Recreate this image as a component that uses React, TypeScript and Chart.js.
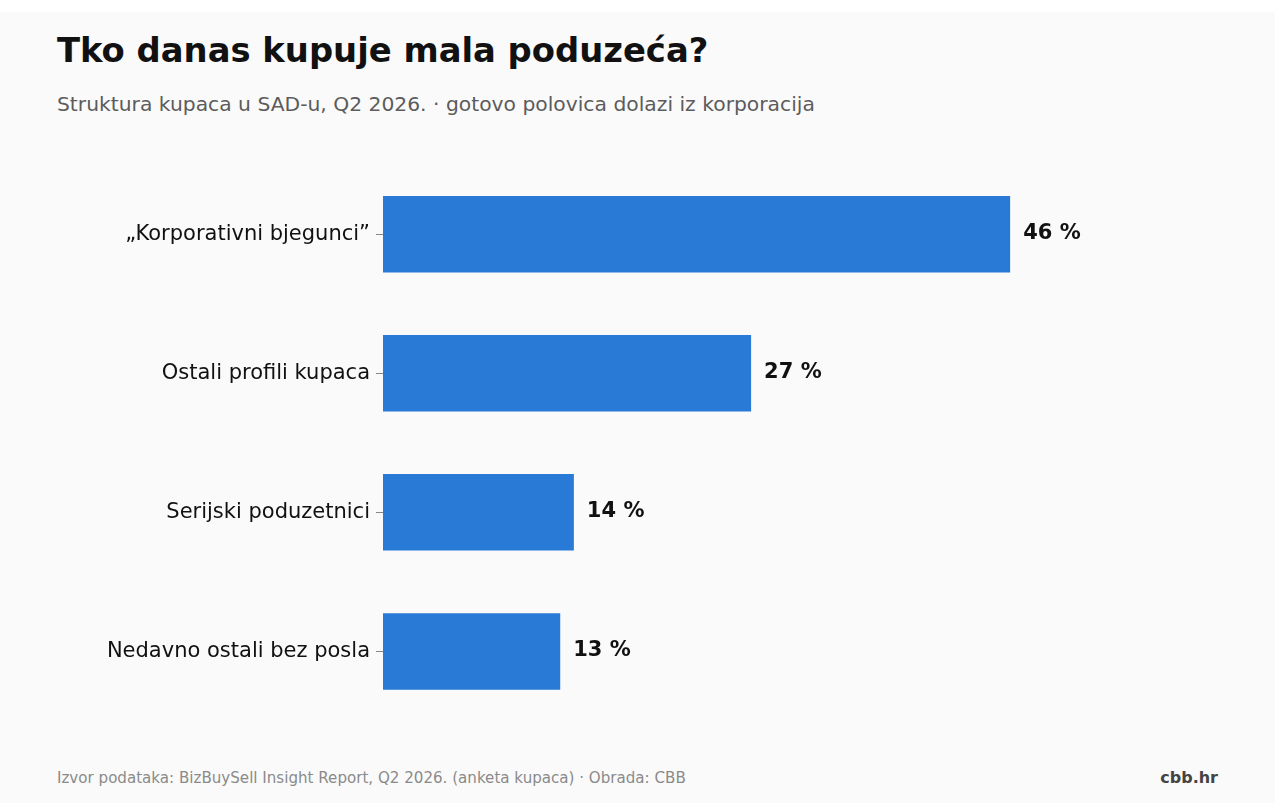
import { useEffect, useRef } from 'react'
import Chart from 'chart.js/auto'

const categories = ['„Korporativni bjegunci”', 'Ostali profili kupaca', 'Serijski poduzetnici', 'Nedavno ostali bez posla']
const shares = [46, 27, 14, 13]

const FONT = '"DejaVu Sans", Verdana, sans-serif'

// upisuje postotak desno od svakog stupca
const valueLabels = {
  id: 'valueLabels',
  afterDatasetsDraw(chart: any) {
    const { ctx } = chart
    const meta = chart.getDatasetMeta(0)
    ctx.save()
    ctx.font = `bold 21px ${FONT}`
    ctx.fillStyle = '#111111'
    ctx.textAlign = 'left'
    ctx.textBaseline = 'middle'
    meta.data.forEach((bar: any, i: number) => {
      ctx.fillText(`${shares[i]} %`, bar.x + 13, bar.y - 1)
    })
    ctx.restore()
  }
}

function BuyersChart() {
  const chartRef = useRef<HTMLCanvasElement>(null)
  const chartInstance = useRef<Chart | null>(null)

  useEffect(() => {
    if (!chartRef.current) return
    if (chartInstance.current) chartInstance.current.destroy()
    const ctx = chartRef.current.getContext('2d')
    if (!ctx) return

    chartInstance.current = new Chart(ctx, {
      type: 'bar',
      data: {
        labels: categories,
        datasets: [{
          data: shares,
          backgroundColor: '#2979d6',
          borderWidth: 0,
          categoryPercentage: 0.55,
          barPercentage: 1
        }]
      },
      options: {
        indexAxis: 'y',
        animation: false,
        responsive: true,
        maintainAspectRatio: false,
        layout: { padding: { top: 11, bottom: 23, left: 0, right: 74 } },
        plugins: {
          legend: { display: false },
          tooltip: { enabled: false }
        },
        scales: {
          x: { display: false, min: 0, max: 60 },
          y: {
            afterFit: (scale: any) => { scale.width = 383 },
            border: { display: false },
            grid: { offset: false, drawOnChartArea: false, tickLength: 7, color: '#888888' },
            ticks: { color: '#111111', padding: 6, font: { family: FONT, size: 21 } }
          }
        }
      },
      plugins: [valueLabels]
    })

    return () => {
      if (chartInstance.current) chartInstance.current.destroy()
    }
  }, [])

  return (
    <div style={{ position: 'absolute', left: 0, top: 146, width: 1275, height: 598 }}>
      <canvas ref={chartRef} />
    </div>
  )
}

export default function App() {
  useEffect(() => {
    document.body.style.margin = '0'
    document.body.style.background = '#ffffff'
  }, [])

  return (
    <div style={{ position: 'relative', width: 1275, height: 803, fontFamily: FONT }}>
      <div style={{ position: 'absolute', left: 0, top: 12, width: 1275, height: 791, background: '#fafafa' }} />
      <div style={{ position: 'absolute', left: 57, top: 31, fontSize: 33.8, fontWeight: 'bold', color: '#111111', whiteSpace: 'nowrap' }}>
        Tko danas kupuje mala poduzeća?
      </div>
      <div style={{ position: 'absolute', left: 57, top: 92, fontSize: 20.3, color: '#5c5c5c', whiteSpace: 'nowrap' }}>
        Struktura kupaca u SAD-u, Q2 2026. · gotovo polovica dolazi iz korporacija
      </div>
      <BuyersChart />
      <div style={{ position: 'absolute', left: 57, top: 769, fontSize: 15.1, color: '#8a8a8a', whiteSpace: 'nowrap' }}>
        Izvor podataka: BizBuySell Insight Report, Q2 2026. (anketa kupaca) · Obrada: CBB
      </div>
      <div style={{ position: 'absolute', right: 57, top: 768, fontSize: 16, fontWeight: 'bold', color: '#444444' }}>
        cbb.hr
      </div>
    </div>
  )
}
